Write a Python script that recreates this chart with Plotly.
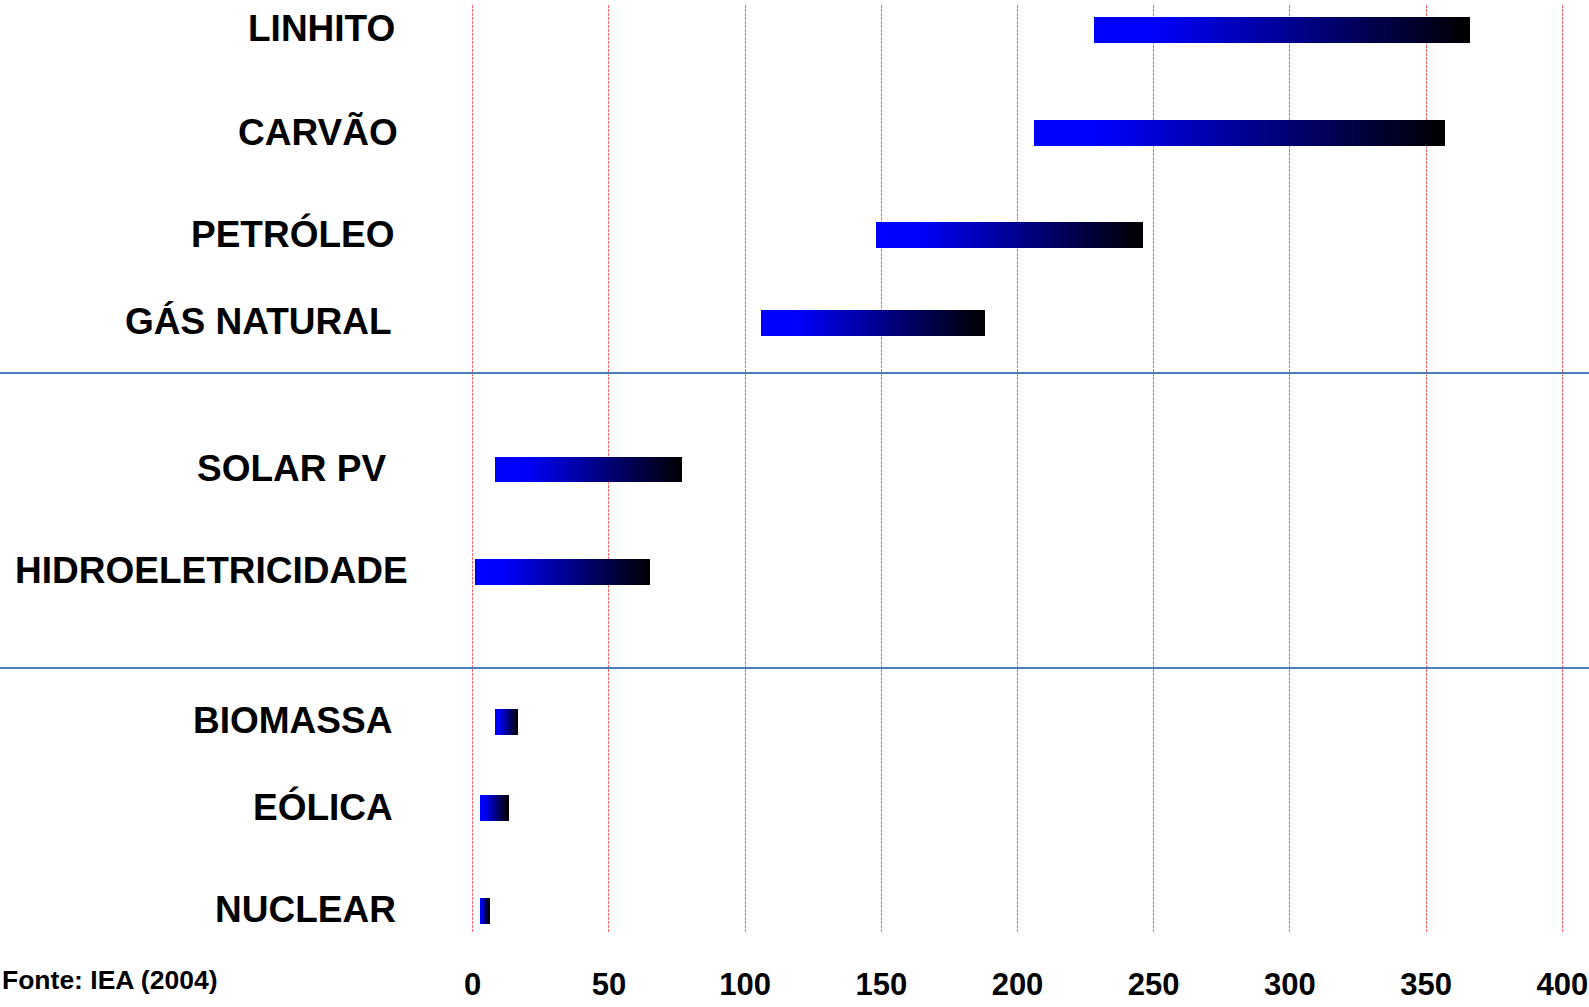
import plotly.graph_objects as go

# Emission ranges per energy source (low / high end of each bar)
sources = ["LINHITO", "CARVÃO", "PETRÓLEO", "GÁS NATURAL", "SOLAR PV",
           "HIDROELETRICIDADE", "BIOMASSA", "EÓLICA", "NUCLEAR"]
range_low = [228, 206, 148, 106, 8, 1, 8.3, 2.5, 2.5]
range_high = [366, 357, 246, 188, 77, 65, 16.5, 13, 6]
x_ticks = [0, 50, 100, 150, 200, 250, 300, 350, 400]
source_note = "Fonte: IEA (2004)"

# ---- layout constants (page pixels) ----
W_PAGE, H_PAGE = 1589, 1007
X0_PX, X400_PX = 473, 1562          # where 0 and 400 fall on the page
PAD = 1.0                            # axis padding (data units) so edge gridlines show
K = (X400_PX - X0_PX) / 400
L, R = X0_PX - PAD * K, X400_PX + PAD * K
T, B = 5, 933
PW, PH = R - L, B - T
row_pos = [30, 133, 235, 323, 469.5, 572, 722, 808, 911]   # row centres
label_right = [397, 400, 397, 394, 388, 410, 394, 395, 398]  # right edge of each row label
bar_thickness = 25.5
separators = [373, 668]
LABEL_FONT = dict(family="Liberation Sans, Arial, sans-serif", size=37, color="black")


def paper_x(px):
    return (px - L) / PW


def paper_y(py):
    return (B - py) / PH


# Each bar fades from blue to black: drawn as overlapping segments that
# all end at the high value, each starting a little further right.
N = 80
fig = go.Figure()
for i in range(N):
    t = (i + 0.5) / N
    s = max(0.0, (t - 0.15) / 0.85)
    blue = round(255 * (1 - s))
    bases = [lo + (hi - lo) * i / N for lo, hi in zip(range_low, range_high)]
    lens = [(hi - lo) * (N - i) / N for lo, hi in zip(range_low, range_high)]
    fig.add_trace(go.Bar(
        orientation="h",
        y=row_pos,
        x=lens,
        base=bases,
        width=bar_thickness,
        marker=dict(color=f"rgb(0,0,{blue})", line=dict(width=0)),
        hoverinfo="skip",
        showlegend=False,
    ))

# Horizontal separators across the full page width
for py in separators:
    fig.add_shape(type="line", xref="paper", yref="paper",
                  x0=paper_x(0), x1=paper_x(W_PAGE), y0=paper_y(py), y1=paper_y(py),
                  line=dict(color="#4a7ebb", width=2))

# Row labels, right-aligned next to the plot
for name, py, rx in zip(sources, row_pos, label_right):
    fig.add_annotation(text=f"<b>{name}</b>", xref="paper", yref="y",
                       x=paper_x(rx), y=py - 1.5, xanchor="right", yanchor="middle",
                       showarrow=False, font=LABEL_FONT)

fig.add_annotation(text=f"<b>{source_note}</b>", xref="paper", yref="paper",
                   x=paper_x(1), y=paper_y(980), xanchor="left", yanchor="middle",
                   showarrow=False,
                   font=dict(family="Liberation Sans, Arial, sans-serif", size=26.5, color="black"))

fig.update_layout(
    width=W_PAGE, height=H_PAGE,
    margin=dict(l=L, r=W_PAGE - R, t=T, b=H_PAGE - B, pad=0),
    paper_bgcolor="white", plot_bgcolor="white",
    barmode="overlay",
    bargap=0,
    xaxis=dict(
        range=[-PAD, 400 + PAD],
        automargin=False,
        tickvals=x_ticks,
        ticktext=[f"<b>{v}</b>" for v in x_ticks],
        showgrid=True, gridcolor="rgba(255,40,40,0.7)", gridwidth=1, griddash="3px,1px",
        zeroline=False, showline=False, ticks="",
        ticklabelstandoff=30,
        ticklabeloverflow="allow",
        tickfont=dict(family="Liberation Sans, Arial, sans-serif", size=31, color="black"),
        fixedrange=True,
    ),
    yaxis=dict(
        range=[B, T],
        automargin=False,
        showticklabels=False,
        showgrid=False, zeroline=False, showline=False, ticks="",
        fixedrange=True,
    ),
)

fig.write_html("out.html", config={"displayModeBar": False},
               post_script="document.body.style.margin='0';")
